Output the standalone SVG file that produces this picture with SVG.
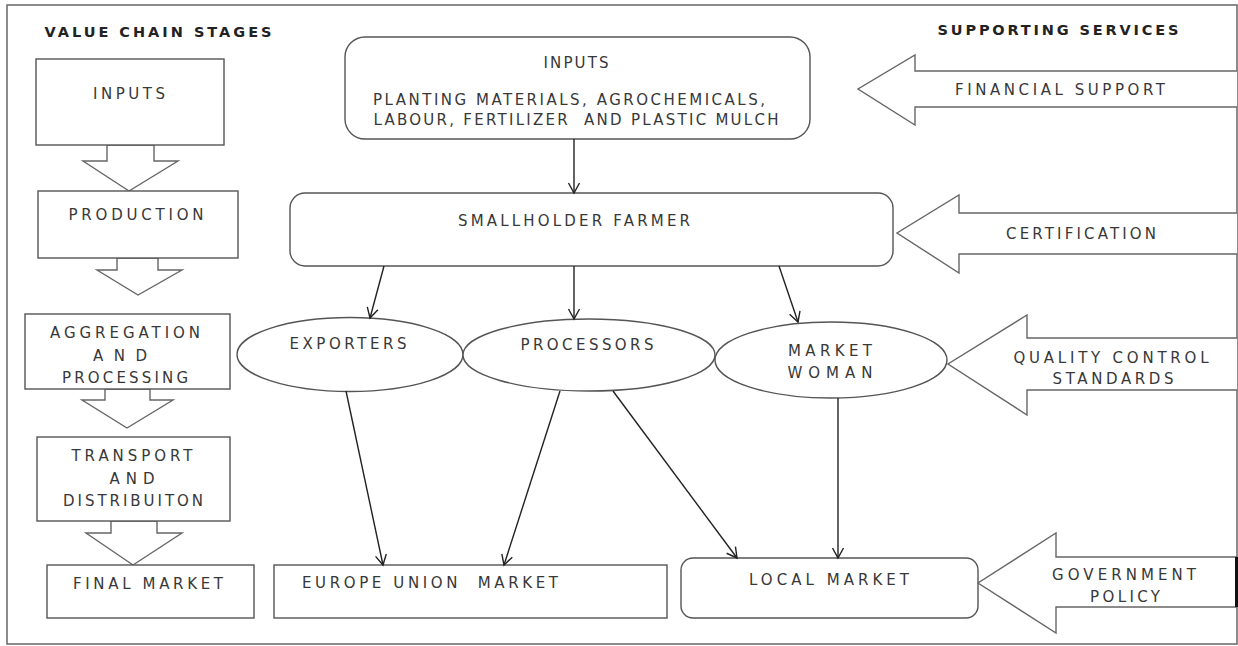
<svg xmlns="http://www.w3.org/2000/svg" width="1238" height="646" viewBox="0 0 1238 646">
<style>
.box{fill:#fff;stroke:#555;stroke-width:1.4}
.blk{fill:#fff;stroke:#666;stroke-width:1.4;stroke-linejoin:miter}
.t{font-family:"DejaVu Sans","Liberation Sans",Arial,sans-serif;font-size:15px;fill:#383838;text-anchor:middle}
.tl{font-family:"DejaVu Sans","Liberation Sans",Arial,sans-serif;font-size:15px;fill:#383838}
.h{font-family:"DejaVu Sans","Liberation Sans",Arial,sans-serif;font-size:14.5px;font-weight:bold;fill:#222;text-anchor:middle}
.c{fill:none;stroke:#222;stroke-width:1.4}
</style>
<defs>
<marker id="ah" markerUnits="userSpaceOnUse" markerWidth="14" markerHeight="14" viewBox="0 0 14 14" refX="12" refY="7" orient="auto">
<path d="M2,1.5 L12,7 L2,12.5" fill="none" stroke="#222" stroke-width="1.4"/>
</marker>
</defs>
<rect x="0" y="0" width="1238" height="646" fill="#fff"/>
<rect x="7" y="5" width="1230" height="639" fill="none" stroke="#666" stroke-width="1.5"/>

<text class="h" x="158" y="37" textLength="227" lengthAdjust="spacing">VALUE CHAIN STAGES</text>
<text class="h" x="1058" y="35" textLength="241" lengthAdjust="spacing">SUPPORTING SERVICES</text>

<g id="stage-arrows">
<polygon class="blk" points="107,145 154,145 154,161 178,161 129,191 83,161 107,161"/>
<polygon class="blk" points="117,258 158,258 158,270 182,270 138,295 97,270 117,270"/>
<polygon class="blk" points="105,389 150,389 150,400 173,400 127,428 82,400 105,400"/>
<polygon class="blk" points="111,521 157,521 157,533 182,533 133,565 86,533 111,533"/>
</g>

<g id="stage-inputs">
<rect class="box" x="36" y="59" width="188" height="86"/>
<text class="t" x="129" y="98.5" textLength="72" lengthAdjust="spacing">INPUTS</text>
</g>
<g id="stage-production">
<rect class="box" x="38" y="191" width="200" height="67"/>
<text class="t" x="136" y="219.5" textLength="135" lengthAdjust="spacing">PRODUCTION</text>
</g>
<g id="stage-aggregation">
<rect class="box" x="25" y="314" width="205" height="75"/>
<text class="t" x="125" y="337.5" textLength="150" lengthAdjust="spacing">AGGREGATION</text>
<text class="t" x="120" y="360.5" textLength="54" lengthAdjust="spacing">AND</text>
<text class="t" x="125" y="382.5" textLength="126" lengthAdjust="spacing">PROCESSING</text>
</g>
<g id="stage-transport">
<rect class="box" x="37" y="437" width="193" height="84"/>
<text class="t" x="132" y="460.5" textLength="121" lengthAdjust="spacing">TRANSPORT</text>
<text class="t" x="132" y="483.5" textLength="45" lengthAdjust="spacing">AND</text>
<text class="t" x="133" y="505.5" textLength="140" lengthAdjust="spacing">DISTRIBUITON</text>
</g>
<g id="stage-final">
<rect class="box" x="47" y="565" width="207" height="53"/>
<text class="t" x="148" y="588.5" textLength="150" lengthAdjust="spacing">FINAL MARKET</text>
</g>

<g id="inputs">
<rect class="box" x="345" y="37" width="465" height="102" rx="20" ry="20"/>
<text class="t" x="576" y="67.5" textLength="65" lengthAdjust="spacing">INPUTS</text>
<text class="t" x="569" y="104.5" textLength="392" lengthAdjust="spacing">PLANTING MATERIALS, AGROCHEMICALS,</text>
<text class="t" x="576" y="124.5" textLength="405" lengthAdjust="spacing" xml:space="preserve">LABOUR, FERTILIZER  AND PLASTIC MULCH</text>
</g>
<g id="smallholder">
<rect class="box" x="290" y="193" width="603" height="73" rx="15" ry="15"/>
<text class="t" x="574" y="225.5" textLength="232" lengthAdjust="spacing">SMALLHOLDER FARMER</text>
</g>
<g id="exporters">
<ellipse class="box" cx="350" cy="354.5" rx="113" ry="37"/>
<text class="t" x="348" y="348.5" textLength="117" lengthAdjust="spacing">EXPORTERS</text>
</g>
<g id="processors">
<ellipse class="box" cx="589" cy="355" rx="126" ry="36"/>
<text class="t" x="587" y="349.5" textLength="133" lengthAdjust="spacing">PROCESSORS</text>
</g>
<g id="market-woman">
<ellipse class="box" cx="831" cy="360" rx="116" ry="38"/>
<text class="t" x="830" y="355.5" textLength="84" lengthAdjust="spacing">MARKET</text>
<text class="t" x="830" y="377.5" textLength="85" lengthAdjust="spacing">WOMAN</text>
</g>
<g id="eu-market">
<rect class="box" x="274" y="565" width="393" height="53"/>
<text class="tl" x="302" y="587.5" textLength="256" lengthAdjust="spacing" xml:space="preserve">EUROPE UNION  MARKET</text>
</g>
<g id="local-market">
<rect class="box" x="681" y="558" width="297" height="60" rx="12" ry="12"/>
<text class="t" x="829" y="584.5" textLength="160" lengthAdjust="spacing">LOCAL MARKET</text>
</g>

<g id="financial-support">
<polyline class="blk" points="1237,71 915,71 915,55 858,89 915,125 915,107 1237,107"/>
<text class="t" x="1060" y="94.5" textLength="210" lengthAdjust="spacing">FINANCIAL SUPPORT</text>
</g>
<g id="certification">
<polyline class="blk" points="1237,213 959,213 959,195 897,233 959,273 959,254 1237,254"/>
<text class="t" x="1081" y="238.5" textLength="150" lengthAdjust="spacing">CERTIFICATION</text>
</g>
<g id="quality-control">
<polyline class="blk" points="1237,338 1027,338 1027,315 948,364 1027,415 1027,390 1237,390"/>
<text class="t" x="1111" y="362.5" textLength="195" lengthAdjust="spacing">QUALITY CONTROL</text>
<text class="t" x="1113" y="383.5" textLength="121" lengthAdjust="spacing">STANDARDS</text>
</g>
<g id="government-policy">
<polyline class="blk" points="1237,557 1056,557 1056,533 978,583 1056,633 1056,607 1237,607"/>
<line x1="1236.5" y1="557" x2="1236.5" y2="607" stroke="#111" stroke-width="3"/>
<text class="t" x="1124" y="579.5" textLength="144" lengthAdjust="spacing">GOVERNMENT</text>
<text class="t" x="1125" y="601.5" textLength="70" lengthAdjust="spacing">POLICY</text>
</g>

<g id="connectors">
<line class="c" x1="574" y1="139" x2="574" y2="193" marker-end="url(#ah)"/>
<line class="c" x1="384" y1="266" x2="370" y2="318" marker-end="url(#ah)"/>
<line class="c" x1="574" y1="266" x2="574" y2="319" marker-end="url(#ah)"/>
<line class="c" x1="779" y1="266" x2="798" y2="322" marker-end="url(#ah)"/>
<line class="c" x1="346" y1="391" x2="383" y2="565" marker-end="url(#ah)"/>
<line class="c" x1="560" y1="391" x2="504" y2="565" marker-end="url(#ah)"/>
<line class="c" x1="613" y1="391" x2="737" y2="558" marker-end="url(#ah)"/>
<line class="c" x1="838" y1="398" x2="838" y2="558" marker-end="url(#ah)"/>
</g>
</svg>
